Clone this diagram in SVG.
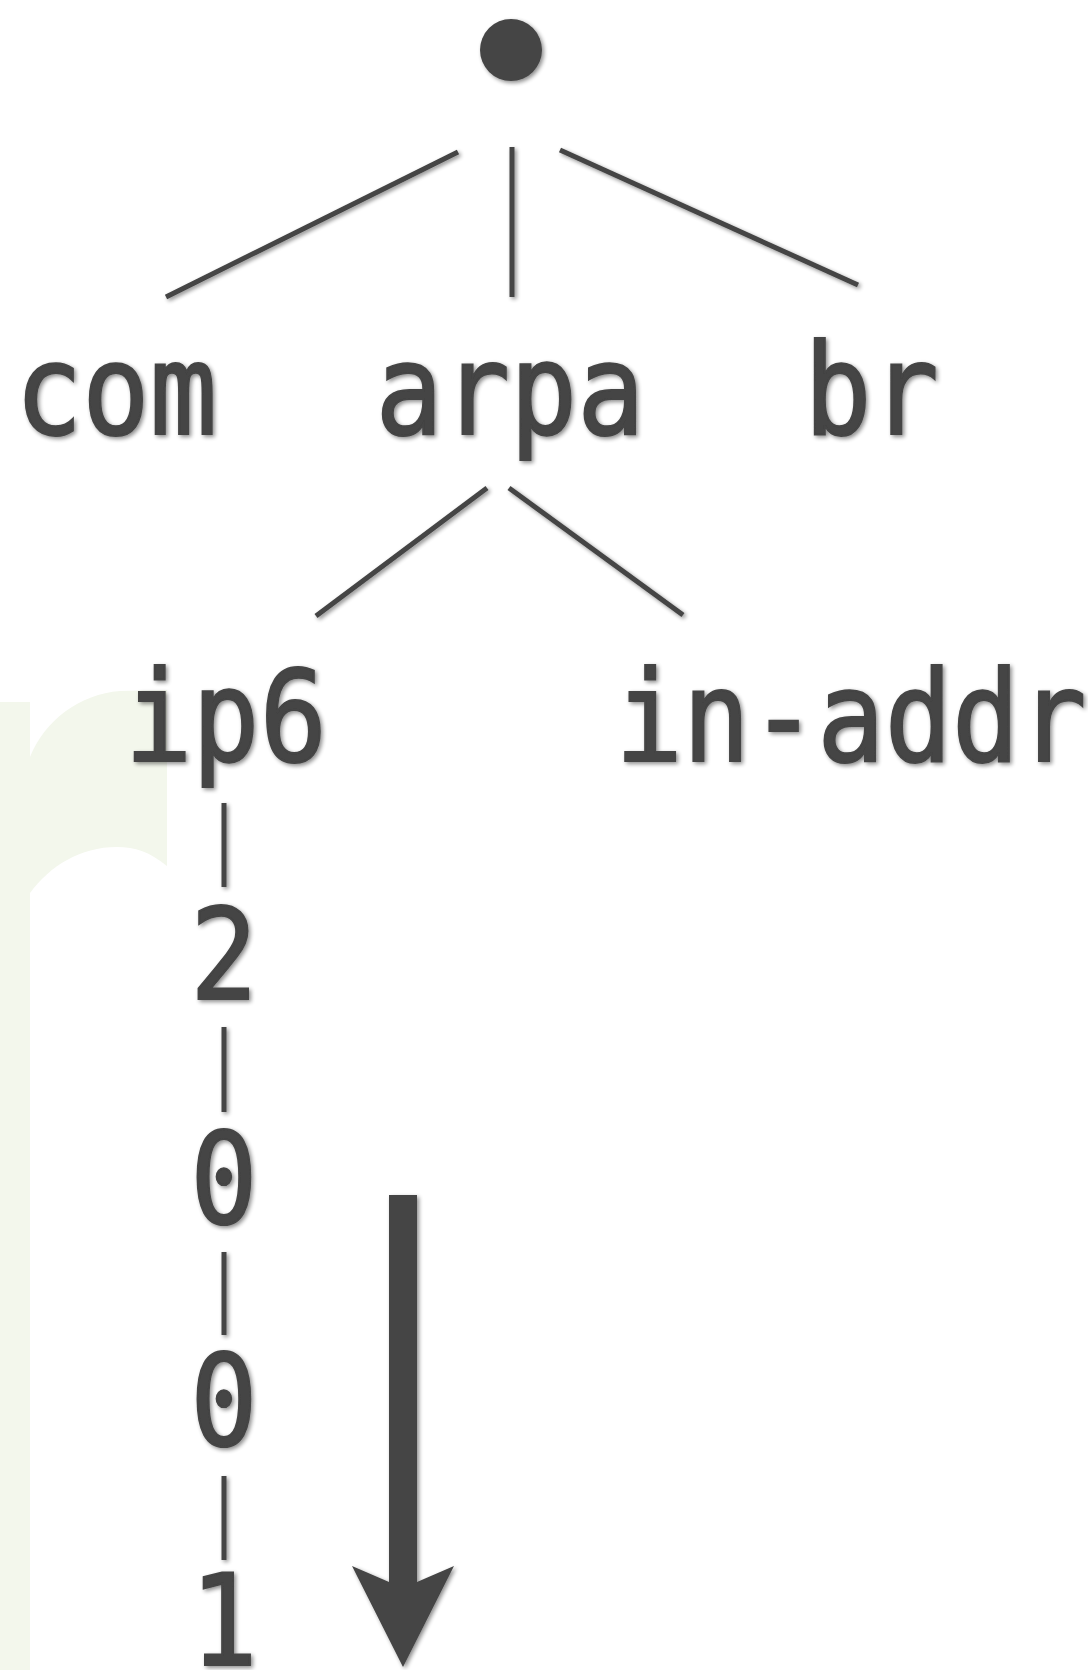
<svg xmlns="http://www.w3.org/2000/svg" width="1088" height="1670" viewBox="0 0 1088 1670">
<defs>
<filter id="sh" x="-20%" y="-20%" width="140%" height="140%">
<feGaussianBlur in="SourceAlpha" stdDeviation="2"/>
<feOffset dx="2" dy="2" result="b"/>
<feComponentTransfer><feFuncA type="linear" slope="0.45"/></feComponentTransfer>
<feMerge><feMergeNode/><feMergeNode in="SourceGraphic"/></feMerge>
</filter>
<style>
.lbl{font-family:"DejaVu Sans Mono","Liberation Mono",monospace;font-size:127px;fill:#444;stroke:#444;stroke-width:2.2px;text-anchor:middle}
.ln{stroke:#444;stroke-width:5;fill:none;stroke-linecap:butt}
</style>
</defs>
<rect width="1088" height="1670" fill="#fff"/>
<path d="M0,702 H30 V757 C45,720 80,694 120,691 L167,690 V866 C150,852 135,847 117,847 C80,847 50,866 30,893 V1670 H0 Z" fill="#f3f7ec"/>
<g id="connectors" filter="url(#sh)">
<line class="ln" x1="458" y1="152" x2="166" y2="297"/>
<line class="ln" x1="512" y1="147" x2="512" y2="297"/>
<line class="ln" x1="560" y1="150" x2="858" y2="285"/>
<line class="ln" x1="487" y1="488" x2="316" y2="616"/>
<line class="ln" x1="509" y1="488" x2="683" y2="615"/>
<line class="ln" x1="224" y1="803" x2="224" y2="887"/>
<line class="ln" x1="224" y1="1027" x2="224" y2="1112"/>
<line class="ln" x1="224" y1="1252" x2="224" y2="1335"/>
<line class="ln" x1="224" y1="1476" x2="224" y2="1560"/>
</g>
<g id="root" filter="url(#sh)"><circle cx="511" cy="50" r="31" fill="#444"/></g>
<g id="com" filter="url(#sh)"><g transform="translate(116,0) scale(0.88,1)"><text class="lbl" x="0" y="434">com</text></g></g>
<g id="arpa" filter="url(#sh)"><g transform="translate(510,0) scale(0.88,1)"><text class="lbl" x="0" y="434">arpa</text></g></g>
<g id="br" filter="url(#sh)"><g transform="translate(871.5,0) scale(0.88,1)"><text class="lbl" x="0" y="434">br</text></g></g>
<g id="ip6" filter="url(#sh)"><g transform="translate(226,0) scale(0.88,1)"><text class="lbl" x="0" y="761">ip6</text></g></g>
<g id="in-addr" filter="url(#sh)"><g transform="translate(851,0) scale(0.88,1)"><text class="lbl" x="0" y="761">in-addr</text></g></g>
<g id="d2" filter="url(#sh)"><g transform="translate(224,0) scale(0.88,1)"><text class="lbl" x="0" y="999">2</text></g></g>
<g id="d0a" filter="url(#sh)"><g transform="translate(224,0) scale(0.88,1)"><text class="lbl" x="0" y="1223">0</text></g></g>
<g id="d0b" filter="url(#sh)"><g transform="translate(224,0) scale(0.88,1)"><text class="lbl" x="0" y="1445">0</text></g></g>
<g id="d1" filter="url(#sh)"><g transform="translate(224,0) scale(0.88,1)"><text class="lbl" x="0" y="1665">1</text></g></g>
<g id="arrow" filter="url(#sh)">
<path d="M389,1195 H417 V1582 L454,1566 L403,1667 L352,1566 L389,1582 Z" fill="#444"/>
</g>
</svg>
